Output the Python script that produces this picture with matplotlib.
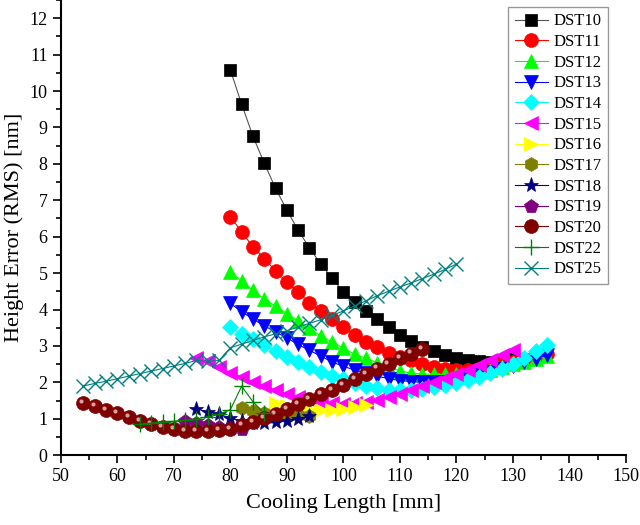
import numpy as np
import matplotlib.pyplot as plt
from matplotlib.ticker import MultipleLocator
from matplotlib.transforms import ScaledTranslation

plt.rcParams['font.family'] = ['Liberation Serif', 'DejaVu Serif']

# cooling length [mm] and height error [nm] per run
x10 = list(range(80, 132, 2))
y10 = [10.58, 9.64, 8.76, 8.02, 7.33, 6.73, 6.18, 5.69, 5.25, 4.86, 4.49, 4.22, 3.97,
       3.74, 3.52, 3.31, 3.13, 2.98, 2.86, 2.75, 2.68, 2.62, 2.58, 2.56, 2.60, 2.64]

x11 = list(range(80, 138, 2))
y11 = [6.55, 6.13, 5.72, 5.40, 5.06, 4.76, 4.47, 4.19, 3.96, 3.73, 3.52, 3.30, 3.11,
       2.96, 2.81, 2.70, 2.61, 2.50, 2.43, 2.38, 2.35, 2.35, 2.37, 2.42, 2.50, 2.57,
       2.64, 2.71, 2.78]

x12 = list(range(80, 138, 2))
y12 = [5.04, 4.78, 4.53, 4.29, 4.09, 3.89, 3.68, 3.48, 3.27, 3.11, 2.94, 2.77, 2.66,
       2.54, 2.40, 2.32, 2.25, 2.23, 2.22, 2.22, 2.22, 2.24, 2.28, 2.35, 2.42, 2.50,
       2.57, 2.63, 2.72]

x13 = list(range(80, 138, 2))
y13 = [4.17, 3.94, 3.74, 3.55, 3.39, 3.22, 3.04, 2.88, 2.72, 2.56, 2.44, 2.34, 2.26,
       2.17, 2.10, 2.05, 2.02, 2.00, 2.00, 2.02, 2.06, 2.12, 2.20, 2.28, 2.37, 2.46,
       2.56, 2.65, 2.75]

x14 = list(range(80, 138, 2))
y14 = [3.51, 3.32, 3.18, 3.02, 2.87, 2.70, 2.56, 2.43, 2.29, 2.17, 2.08, 1.98, 1.90,
       1.84, 1.80, 1.79, 1.80, 1.83, 1.87, 1.93, 1.98, 2.06, 2.15, 2.26, 2.38, 2.50,
       2.66, 2.85, 3.02]

x15 = list(range(74, 132, 2))
y15 = [2.68, 2.58, 2.43, 2.26, 2.15, 2.01, 1.90, 1.79, 1.69, 1.60, 1.51, 1.46, 1.43,
       1.41, 1.44, 1.46, 1.51, 1.60, 1.69, 1.79, 1.90, 2.01, 2.11, 2.24, 2.34, 2.47,
       2.61, 2.75, 2.90]

x16 = list(range(88, 106, 2))
y16 = [1.42, 1.35, 1.30, 1.27, 1.25, 1.25, 1.28, 1.32, 1.37]

x17 = list(range(82, 96, 2))
y17 = [1.30, 1.22, 1.15, 1.11, 1.10, 1.09, 1.08]

x18 = list(range(74, 96, 2))
y18 = [1.28, 1.18, 1.13, 1.01, 0.93, 0.88, 0.87, 0.90, 0.94, 1.00, 1.07]

x19 = list(range(72, 84, 2))
y19 = [0.95, 0.87, 0.82, 0.78, 0.74, 0.73]

x20 = list(range(54, 116, 2))
y20 = [1.44, 1.35, 1.24, 1.15, 1.04, 0.93, 0.85, 0.78, 0.71, 0.66, 0.66, 0.66, 0.69,
       0.73, 0.82, 0.92, 1.01, 1.13, 1.26, 1.40, 1.53, 1.68, 1.80, 1.93, 2.08, 2.22,
       2.38, 2.50, 2.66, 2.79, 2.91]

x22 = list(range(64, 88, 2))
y22 = [0.85, 0.88, 0.92, 0.93, 0.96, 1.00, 1.05, 1.12, 1.25, 1.89, 1.47, 1.15]

x25 = list(range(54, 122, 2))
y25 = [1.90, 1.97, 2.03, 2.10, 2.17, 2.24, 2.31, 2.38, 2.45, 2.52, 2.60, 2.58, 2.60,
       2.95, 3.05, 3.15, 3.25, 3.33, 3.42, 3.52, 3.62, 3.72, 3.84, 3.96, 4.10, 4.24,
       4.38, 4.50, 4.62, 4.73, 4.85, 4.97, 5.10, 5.25]

series = [
    ("DST10", x10, y10, 's', '#000000', 9),
    ("DST11", x11, y11, 'o', '#ff0000', 10),
    ("DST12", x12, y12, '^', '#00ff00', 10),
    ("DST13", x13, y13, 'v', '#0000ff', 10),
    ("DST14", x14, y14, 'D', '#00ffff', 8),
    ("DST15", x15, y15, '<', '#ff00ff', 10),
    ("DST16", x16, y16, '>', '#ffff00', 10),
    ("DST17", x17, y17, 'h', '#808000', 10),
    ("DST18", x18, y18, '*', '#000080', 11),
    ("DST19", x19, y19, 'p', '#800080', 10),
    ("DST20", x20, y20, 'o', '#800000', 10),
    ("DST22", x22, y22, '+', '#008000', 11),
    ("DST25", x25, y25, 'x', '#008080', 10),
]

fig, ax = plt.subplots(figsize=(6.4, 5.25), dpi=100)
fig.subplots_adjust(left=0.095, right=0.978, bottom=0.133, top=1.0)

for name, xs, ys, mk, col, ms in series:
    line_col = '#555555' if name == "DST10" else col
    ax.plot(xs, ys, color=line_col, lw=0.8, marker=mk, markersize=ms,
            markerfacecolor=col, markeredgecolor=col, markeredgewidth=1.0 if mk in '+x' else 0.5,
            label=name)
    if name == "DST20":
        # little highlight to mimic the shaded sphere marker
        hl = ax.transData + ScaledTranslation(-1.5 / 72, 1.5 / 72, fig.dpi_scale_trans)
        ax.plot(xs, ys, linestyle='none', marker='o', markersize=3,
                markerfacecolor='#d9a0a0', markeredgecolor='none', transform=hl)

ax.set_xlim(50, 150)
ax.set_ylim(0, 12.5)
ax.xaxis.set_major_locator(MultipleLocator(10))
ax.xaxis.set_minor_locator(MultipleLocator(5))
ax.yaxis.set_major_locator(MultipleLocator(1))
ax.yaxis.set_minor_locator(MultipleLocator(0.5))
ax.tick_params(which='major', direction='out', length=6, width=1.2, labelsize=13)
ax.tick_params(which='minor', direction='out', length=3.5, width=1.2)
for s in ['top', 'right']:
    ax.spines[s].set_visible(False)
for s in ['left', 'bottom']:
    ax.spines[s].set_linewidth(1.5)

ax.set_xlabel('Cooling Length [mm]', fontsize=16, labelpad=6)
ax.set_ylabel('Height Error (RMS) [nm]', fontsize=16)

leg = ax.legend(loc='upper right', bbox_to_anchor=(0.968, 0.985), borderaxespad=0,
                fontsize=12, frameon=True, fancybox=False, edgecolor='#808080',
                labelspacing=0.28, handlelength=2.0, handletextpad=0.3, borderpad=0.4)
leg.get_frame().set_linewidth(1.0)

fig.savefig('out.png', dpi=100)
